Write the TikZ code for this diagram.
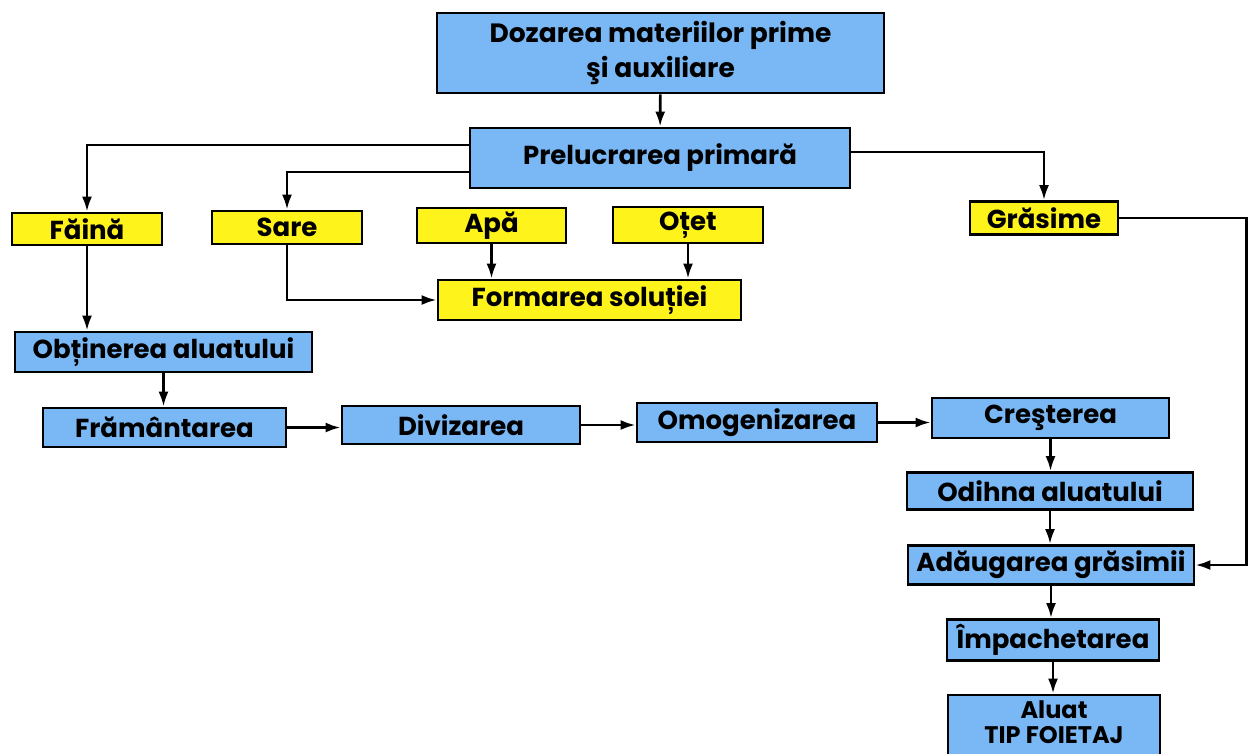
\documentclass[tikz,border=0pt]{standalone}
\usepackage{fontspec}
\setmainfont{Poppins}
\usetikzlibrary{arrows.meta,calc}
\definecolor{boxblue}{HTML}{7AB8F5}
\definecolor{boxyellow}{HTML}{FFF31C}
\begin{document}
\begin{tikzpicture}[x=1pt,y=-1pt,
  base/.style={draw=black, line width=2.8pt, inner sep=0pt, align=center,
    font=\fontsize{26}{30}\selectfont\bfseries},
  procbox/.style={base, fill=boxblue},
  itembox/.style={base, fill=boxyellow},
  arr/.style={-{Latex[length=15pt,width=10pt]}, line width=2.6pt}
]
\useasboundingbox (0,0) rectangle (1253,753);
\clip (0,0) rectangle (1253,753);

% main sequence
\node[procbox, minimum width=447, minimum height=80,
  font=\fontsize{26.5}{35}\selectfont\bfseries] (doz) at (660.5,53) {Dozarea materiilor prime\\şi auxiliare};
\node[procbox, minimum width=380, minimum height=60] (prel) at (660,158) {Prelucrarea primară};

% raw materials
\node[itembox, minimum width=150, minimum height=32] (fai) at (87,229) {Făină};
\node[itembox, minimum width=150, minimum height=33] (sare) at (287,227.5) {Sare};
\node[itembox, minimum width=149, minimum height=35] (apa) at (491.5,225.5) {Apă};
\node[itembox, minimum width=150, minimum height=36] (otet) at (688,225) {Oțet};
\node[itembox, minimum width=148, minimum height=33] (gras) at (1044,218) {Grăsime};
\node[itembox, minimum width=303, minimum height=40] (form) at (589.5,300) {Formarea soluției};

% dough processing
\node[procbox, minimum width=297, minimum height=40] (obt) at (163.5,352) {Obținerea aluatului};
\node[procbox, minimum width=243, minimum height=39] (fram) at (164.5,427.5) {Frământarea};
\node[procbox, minimum width=238, minimum height=38] (div) at (461,425) {Divizarea};
\node[procbox, minimum width=240, minimum height=39] (omo) at (757,422.5) {Omogenizarea};
\node[procbox, minimum width=237, minimum height=40] (cre) at (1050.5,418) {Creşterea};
\node[procbox, minimum width=286, minimum height=37] (odi) at (1050,491) {Odihna aluatului};
\node[procbox, minimum width=286, minimum height=39] (adaug) at (1051,565) {Adăugarea grăsimii};
\node[procbox, minimum width=212, minimum height=41] (imp) at (1053,640) {Împachetarea};
\node[procbox, minimum width=212, minimum height=62,
  font=\fontsize{24}{27}\selectfont\bfseries] (aluat) at (1054,726)
  {\raisebox{6pt}{\begin{tabular}{@{}c@{}}Aluat\\[-2pt]TIP FOIETAJ\end{tabular}}};

% connectors
\draw[arr] (doz) -- (prel);
\draw[arr] ($(prel.west)+(0,-13)$) -| (fai.north);
\draw[arr] ($(prel.west)+(0,14)$) -| (sare.north);
\draw[arr] ($(prel.east)+(0,-6)$) -| (gras.north);
\draw[arr] (gras.east) -| ($(adaug.east)+(51,0)$) -- (adaug.east);

\draw[arr] (sare.south) |- (form.west);
\draw[arr] (apa.south) -- (apa.south |- form.north);
\draw[arr] (otet.south) -- (otet.south |- form.north);

\draw[arr] (fai.south) -- (fai.south |- obt.north);
\draw[arr] (obt.south) -- (obt.south |- fram.north);
\draw[arr] (fram.east) -- (fram.east -| div.west);
\draw[arr] (div.east) -- (div.east -| omo.west);
\draw[arr] (omo.east) -- (omo.east -| cre.west);
\draw[arr] (cre.south) -- (cre.south |- odi.north);
\draw[arr] (odi.south) -- (odi.south |- adaug.north);
\draw[arr] (adaug.south) -- (adaug.south |- imp.north);
\draw[arr] (imp.south) -- (imp.south |- aluat.north);
\end{tikzpicture}
\end{document}
